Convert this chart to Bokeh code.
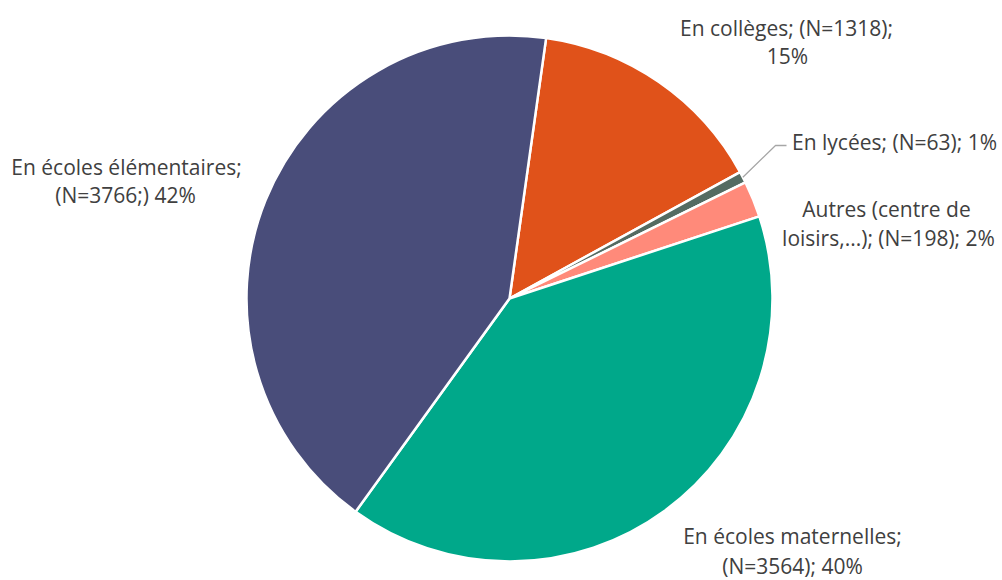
import math
from bokeh.plotting import figure
from bokeh.models import Range1d, ColumnDataSource
from bokeh.core.properties import value
from bokeh.embed import file_html
from bokeh.resources import INLINE

# ---- data ----
categories = ["En collèges", "En lycées", "Autres (centre de loisirs,...)", "En écoles maternelles", "En écoles élémentaires"]
counts = [1318, 63, 198, 3564, 3766]
percent_labels = ["15%", "1%", "2%", "40%", "42%"]
label_lines = [
    ["En collèges; (N=1318);", "15%"],
    ["En lycées; (N=63); 1%"],
    ["Autres (centre de", "loisirs,...); (N=198); 2%"],
    ["En écoles maternelles;", "(N=3564); 40%"],
    ["En écoles élémentaires;", "(N=3766;) 42%"],
]
colors = ["#E0521A", "#546B62", "#FF8A7A", "#00A88A", "#494D7A"]

W, H = 1002, 580
def sx(x):  # screen x -> data x
    return x
def sy(y):  # screen y -> data y
    return H - y

cx, cy, r = sx(509), sy(298), 263
rotation = 8.0  # degrees clockwise from 12 o'clock

total = sum(counts)
starts, ends, mids = [], [], []
cum = 0.0
for c in counts:
    a0 = cum / total * 360
    cum += c
    a1 = cum / total * 360
    starts.append(math.radians(90 - rotation - a1))
    ends.append(math.radians(90 - rotation - a0))
    mids.append((a0 + a1) / 2 + rotation)

src = ColumnDataSource(dict(cat=categories, n=counts, start=starts, end=ends, color=colors))

p = figure(width=W, height=H, output_backend="svg", toolbar_location=None,
           x_range=Range1d(0, W), y_range=Range1d(0, H), min_border=0)
p.axis.visible = False
p.grid.visible = False
p.outline_line_color = None
p.background_fill_color = "white"

p.wedge(x=cx, y=cy, radius=r, start_angle="start", end_angle="end", direction="anticlock",
        fill_color="color", line_color="white", line_width=2.5, source=src)

# leader line for the small "lycées" slice
m = math.radians(mids[1])
ex, ey = 509 + r * math.sin(m), 298 - r * math.cos(m)
p.line(x=[sx(ex), sx(775), sx(786)], y=[sy(ey), sy(145), sy(145)], line_color="#A6A6A6", line_width=1.3)

label_pos = [
    [(786, 27), (787, 55)],
    [(894, 141)],
    [(886, 208), (888, 237)],
    [(792, 535), (792, 565)],
    [(126, 166), (125, 194)],
]
xs, ys, ts = [], [], []
for lines, poss in zip(label_lines, label_pos):
    for t, (x, y) in zip(lines, poss):
        xs.append(sx(x)); ys.append(sy(y)); ts.append(t)

p.text(x=xs, y=ys, text=ts, text_align="center", text_baseline="middle",
       text_font=value("Open Sans"), text_font_size="21px", text_color="#404040")

open("out.html", "w").write(file_html(p, INLINE))
